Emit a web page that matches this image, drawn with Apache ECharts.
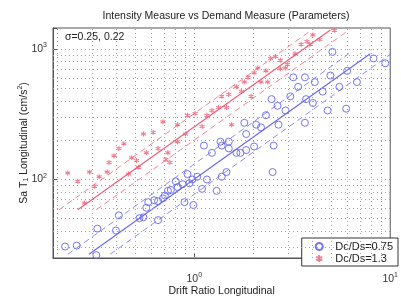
<!DOCTYPE html>
<html>
<head>
<meta charset="utf-8">
<script src="https://cdn.jsdelivr.net/npm/echarts@6/dist/echarts.min.js"></script>
<style>
  html, body { margin: 0; padding: 0; background: #fff; }
  #chart { width: 401px; height: 302px; }
</style>
</head>
<body>
<div id="chart"></div>
<script>
// scatter points, Dc/Ds = 0.75 (blue circles)
const blueX = [0.219, 0.251, 0.316, 0.32, 0.398, 0.412, 0.525, 0.55, 0.569, 0.582, 0.624, 0.653, 0.692, 0.708,
  0.733, 0.759, 0.653, 0.891, 0.989, 0.804, 0.822, 0.871, 0.944, 0.923, 0.977, 1.035, 1.096, 1.16, 1.30, 1.38,
  1.46, 1.12, 1.23, 1.38, 1.50, 1.64, 1.72, 1.84, 2.02, 2.54, 2.51, 1.36, 1.50, 1.80, 1.84, 2.07, 2.19, 2.69,
  2.32, 2.92, 3.67, 2.48, 2.66, 3.09, 3.72, 4.03, 4.79, 5.96, 3.20, 3.39, 3.67, 4.12, 4.52, 4.95, 5.07, 5.5,
  6.03, 6.76, 8.22, 9.44];
const blueY = [30.6, 31.1, 26.3, 42.0, 40.6, 53.1, 50.5, 51.3, 60.7, 67.0, 69.3, 68.1, 71.6, 75.3,
  81.8, 83.2, 48.8, 67.0, 63.7, 96.8, 87.5, 92.0, 93.6, 110, 100, 105, 84.8, 100, 81.8, 105,
  114, 182, 160, 182, 173, 160, 160, 168, 179, 182, 114, 195, 195, 272, 223, 263, 251, 263,
  311, 338, 272, 413, 367, 434, 413, 386, 338, 349, 607, 513, 607, 558, 472, 627, 951, 513,
  681, 558, 847, 778];

// scatter points, Dc/Ds = 1.3 (red stars)
const redX = [0.226, 0.254, 0.275, 0.292, 0.309, 0.327, 0.359, 0.367, 0.389, 0.412, 0.437, 0.462, 0.479, 0.507,
  0.519, 0.569, 0.653, 0.716, 0.733, 0.75, 0.55, 0.617, 0.692, 0.822, 0.822, 0.902, 0.923, 1.01, 1.096, 1.16,
  1.23, 1.33, 1.46, 1.55, 1.38, 1.50, 1.64, 1.74, 1.80, 1.88, 1.95, 2.02, 2.11, 2.19, 2.32, 2.37, 2.45,
  2.60, 2.75, 2.75, 2.92, 2.99, 3.27, 3.51, 3.76, 3.89, 4.03, 4.37, 5.19];
const redY = [112, 96.8, 65.9, 114, 88.9, 105, 114, 135, 152, 173, 188, 110, 147, 140,
  124, 160, 173, 142, 160, 135, 223, 230, 277, 263, 195, 223, 311, 321, 255, 311,
  338, 356, 356, 263, 434, 449, 513, 472, 558, 607, 434, 659, 716, 558, 681, 558, 847,
  875, 819, 705, 716, 766, 920, 1087, 1143, 1087, 1284, 1181, 1396];

// fitted lines (median and +/- sigma), end points
const blueFitY = [26.7, 920];
const blueFitX = [0.29, 7.9];
const blueUpX = [0.226, 6.15];
const blueLowX = [0.372, 10.1];
const redFitY = [58.6, 1400];
const redFitX = [0.254, 4.95];
const redUpX = [0.204, 3.97];
const redLowX = [0.316, 6.17];

// grid lines
const xGrid = [0.2, 0.3, 0.4, 0.5, 0.6, 0.7, 0.8, 0.9, 1, 2, 3, 4, 5, 6, 7, 8, 9];
const yGrid = [30, 40, 50, 60, 70, 80, 90, 100, 200, 300, 400, 500, 600, 700, 800, 900, 1000];

const FONT = "Liberation Sans";
const BLUE = "#6666f0";
const RED = "#f05a72";

function pairs(xs, ys) {
  return xs.map((x, i) => [x, ys[i]]);
}

function powLabel(v) {
  const p = Math.round(Math.log10(v));
  if (Math.abs(Math.log10(v) - p) > 1e-6) return "";
  return "{b|10}{s|" + p + "}";
}

const labelRich = {
  b: { fontSize: 10.5, fontFamily: FONT, color: "#333" },
  s: { fontSize: 7, fontFamily: FONT, color: "#333", padding: [0, 0, 7, 0] },
};

function fitLine(xs, ys, color, dashed) {
  return {
    type: "line",
    data: pairs(xs, ys),
    symbol: "none",
    silent: true,
    lineStyle: dashed
      ? { color: color, width: 1, type: [6, 4], opacity: 0.75 }
      : { color: color, width: 1.1 },
    z: 2,
  };
}

const chart = echarts.init(document.getElementById("chart"));

const option = {
  animation: false,
  backgroundColor: "#fff",
  title: {
    text: "Intensity Measure vs Demand Measure (Parameters)",
    left: 226,
    top: 11,
    padding: 0,
    textAlign: "center",
    textStyle: { fontSize: 10.5, fontWeight: "normal", color: "#222", fontFamily: FONT },
  },
  graphic: [
    {
      type: "text",
      left: 65,
      top: 32,
      style: { text: "σ=0.25, 0.22", fontSize: 10.5, fill: "#222", fontFamily: FONT },
    },
  ],
  legend: {
    orient: "vertical",
    right: 3,
    bottom: 36,
    padding: [3, 5, 2, 13],
    itemGap: 1,
    itemWidth: 22,
    itemHeight: 7,
    borderColor: "#333",
    borderWidth: 1,
    borderRadius: 0,
    backgroundColor: "#fff",
    textStyle: { fontSize: 11, color: "#222", fontFamily: FONT },
    data: ["Dc/Ds=0.75", "Dc/Ds=1.3"],
  },
  grid: {
    left: 53,
    right: 3,
    top: 28,
    bottom: 32,
    show: true,
    backgroundColor: "#fff",
    borderColor: "#555",
    borderWidth: 1,
  },
  xAxis: {
    type: "log",
    logBase: 10,
    min: 0.19,
    max: 10,
    name: "Drift Ratio Longitudinal",
    nameLocation: "middle",
    nameGap: 28,
    nameMoveOverlap: false,
    nameTextStyle: { fontSize: 10.5, color: "#222", fontFamily: FONT },
    axisLine: { lineStyle: { color: "#555" } },
    axisTick: { inside: true, length: 4, lineStyle: { color: "#555" } },
    axisLabel: { margin: 14, formatter: powLabel, rich: labelRich },
    splitLine: { show: false },
  },
  yAxis: {
    type: "log",
    logBase: 10,
    min: 25,
    max: 1450,
    name: "{a|Sa T}{u|1}{a| Longitudinal (cm/s}{s|2}{a|)}",
    nameLocation: "middle",
    nameGap: 22,
    nameMoveOverlap: false,
    nameTextStyle: {
      rich: {
        a: { fontSize: 10.5, color: "#222", fontFamily: FONT },
        u: { fontSize: 7, color: "#222", fontFamily: FONT, padding: [5, 0, 0, 0] },
        s: { fontSize: 7, color: "#222", fontFamily: FONT, padding: [0, 0, 7, 0] },
      },
    },
    axisLine: { lineStyle: { color: "#555" } },
    axisTick: { inside: true, length: 4, lineStyle: { color: "#555" } },
    axisLabel: { margin: 6, formatter: powLabel, rich: labelRich },
    splitLine: { show: false },
  },
  series: [
    {
      name: "grid",
      type: "line",
      data: [],
      z: 1,
      silent: true,
      markLine: {
        silent: true,
        symbol: ["none", "none"],
        label: { show: false },
        lineStyle: { color: "#a0a0a0", width: 1, type: [1, 3] },
        data: xGrid.map((v) => ({ xAxis: v })).concat(yGrid.map((v) => ({ yAxis: v }))),
      },
    },
    {
      name: "Dc/Ds=0.75",
      type: "scatter",
      data: pairs(blueX, blueY),
      symbol: "circle",
      symbolSize: 7,
      itemStyle: { color: "transparent", borderColor: BLUE, borderWidth: 1, opacity: 0.9 },
      z: 3,
    },
    {
      name: "Dc/Ds=1.3",
      type: "scatter",
      data: pairs(redX, redY),
      symbol: "path://M5,0L5,10M0.7,2.5L9.3,7.5M0.7,7.5L9.3,2.5",
      symbolSize: 5,
      itemStyle: { color: "transparent", borderColor: RED, borderWidth: 1.1 },
      z: 3,
    },
    fitLine(blueFitX, blueFitY, BLUE, false),
    fitLine(blueUpX, blueFitY, BLUE, true),
    fitLine(blueLowX, blueFitY, BLUE, true),
    fitLine(redFitX, redFitY, RED, false),
    fitLine(redUpX, redFitY, RED, true),
    fitLine(redLowX, redFitY, RED, true),
  ],
};

chart.setOption(option);
</script>
</body>
</html>
